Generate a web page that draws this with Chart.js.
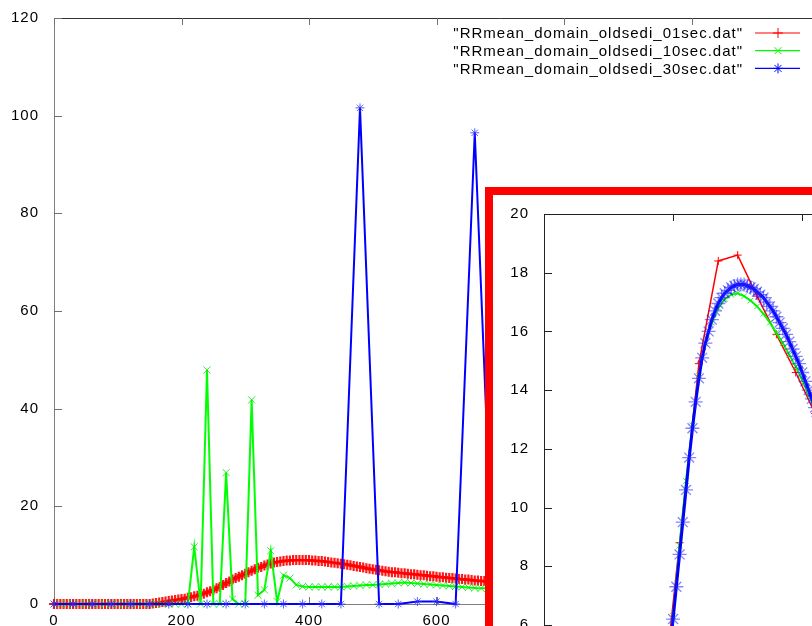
<!DOCTYPE html>
<html lang="en">
<head>
  <meta charset="UTF-8">
  <title>RRmean domain oldsedi</title>
  <script src="https://cdn.jsdelivr.net/npm/chart.js"></script>
  <style>
    body {
      margin: 0;
      width: 812px;
      height: 626px;
      overflow: hidden;
      position: relative;
      background: #fff;
    }

    #main {
      position: absolute;
      left: 0;
      top: 0;
    }

    /* zoomed panel, red frame */
    #zoomBox {
      position: absolute;
      left: 485px;
      top: 187px;
      width: 720px;
      height: 700px;
      border: 8px solid #ff0000;
      background: #fff;
    }

    #inset {
      position: absolute;
      left: 0;
      top: 0;
    }
  </style>
</head>

<body>
  <canvas id="main" width="960" height="660"></canvas>
  <div id="zoomBox"><canvas id="inset" width="710" height="680"></canvas></div>
  <script>
    // file names used in the key
    const fileNames = [
      '"RRmean_domain_oldsedi_01sec.dat"',
      '"RRmean_domain_oldsedi_10sec.dat"',
      '"RRmean_domain_oldsedi_30sec.dat"'
    ];

    // main plot, one value per output step
    const step01 = 5;
    const rr01 = [
      0, 0, 0, 0, 0, 0, 0, 0, 0, 0, 0, 0, 0, 0, 0, 0, 0, 0, 0, 0, 0, 0, 0, 0, 0, 0, 0, 0, 0, 0, 0,
      0.1, 0.2, 0.3, 0.4, 0.5, 0.6, 0.7, 0.8, 0.9, 1.0,
      1.1, 1.3, 1.4, 1.6, 1.7, 1.9, 2.1, 2.4, 2.6, 2.9,
      3.2, 3.5, 3.9, 4.3, 4.6, 5.0, 5.3, 5.6, 5.9, 6.2,
      6.5, 6.8, 7.1, 7.4, 7.6, 7.9, 8.1, 8.3, 8.5, 8.6,
      8.7, 8.8, 8.9, 8.9, 9.0, 9.0, 9.0, 9.0, 9.0, 9.0,
      8.9, 8.9, 8.8, 8.8, 8.7, 8.6, 8.5, 8.45, 8.35, 8.25,
      8.15, 8.05, 7.95, 7.8, 7.7, 7.6, 7.45, 7.3, 7.2, 7.1,
      7.0, 6.9, 6.8, 6.7, 6.6, 6.5, 6.5, 6.4, 6.3, 6.3,
      6.2, 6.1, 6.1, 6.0, 5.9, 5.9, 5.8, 5.7, 5.7, 5.6,
      5.5, 5.5, 5.4, 5.3, 5.3, 5.2, 5.1, 5.1, 5.0, 5.0,
      4.9, 4.8, 4.8, 4.7, 4.7, 4.6, 4.6, 4.5, 4.5, 4.4
    ];

    const step10 = 10;
    const rr10 = [
      0, 0, 0, 0, 0, 0, 0, 0, 0, 0, 0, 0, 0, 0, 0, 0, 0, 0, 0, 0, 0,
      0, 11.7, 0, 47.9, 0, 0, 26.9, 1.0, 0, 0,
      41.8, 1.8, 2.9, 10.9, 0.5, 5.9, 5.3, 3.9, 3.6, 3.5,
      3.5, 3.5, 3.5, 3.5, 3.5, 3.6, 3.7, 3.8, 3.9, 3.9,
      4.0, 4.1, 4.2, 4.3, 4.4, 4.3, 4.2, 4.1, 4.0, 3.9,
      3.8, 3.7, 3.6, 3.5, 3.4, 3.3, 3.2, 3.2, 3.1, 3.1
    ];

    const step30 = 30;
    const rr30 = [
      0, 0, 0, 0, 0, 0, 0, 0, 0, 0, 0, 0, 0, 0, 0, 0,
      101.6, 0, 0, 0.5, 0.5, 0, 96.5, 0, 0
    ];

    // zoomed panel
    const in01Start = 120, in01Step = 30;
    const in01 = [0, 0.4, 2.6, 8.8, 14.9, 18.4, 18.6, 17.2, 15.9, 14.6, 13.2, 11.8, 10.5];

    const in10Start = 180, in10Step = 10;
    const in10 = [
      2.0, 4.1, 6.3, 8.7, 10.9, 12.8, 14.5, 15.6, 16.3, 16.8, 17.1, 17.25, 17.3, 17.2,
      17.05, 16.85, 16.6, 16.3, 15.95, 15.6, 15.2, 14.8, 14.35, 13.85, 13.3, 12.75, 12.2
    ];

    const in30Start = 180, in30Step = 5;
    const in30 = [
      1.8, 2.9, 4.0, 5.1, 6.2, 7.3, 8.4, 9.5, 10.6, 11.7, 12.7, 13.6, 14.4, 15.1, 15.6,
      16.0, 16.4, 16.7, 16.95, 17.15, 17.3, 17.4, 17.5, 17.55, 17.6, 17.6, 17.6, 17.55,
      17.5, 17.45, 17.35, 17.25, 17.15, 17.0, 16.85, 16.7, 16.5, 16.3, 16.1, 15.9, 15.65,
      15.4, 15.15, 14.9, 14.6, 14.3, 14.0, 13.7, 13.4, 13.1, 12.8
    ];

    const red = '#ff0000';
    const green = '#00ff00';
    const blue = '#0000ff';
    const fontFamily = '"Liberation Sans", Arial, sans-serif';

    function toPoints(start, step, values) {
      return values.map((v, i) => ({ x: start + i * step, y: v }));
    }

    // gnuplot style marks for the key
    function mark(ctx, style, x, y, r) {
      ctx.beginPath();
      if (style !== 'crossRot') {
        ctx.moveTo(x - r, y); ctx.lineTo(x + r, y);
        ctx.moveTo(x, y - r); ctx.lineTo(x, y + r);
      }
      if (style !== 'cross') {
        const d = r * 0.7;
        ctx.moveTo(x - d, y - d); ctx.lineTo(x + d, y + d);
        ctx.moveTo(x - d, y + d); ctx.lineTo(x + d, y - d);
      }
      ctx.stroke();
    }

    // gnuplot text is a bit spaced out
    const spacing = {
      id: 'spacing',
      beforeDraw(chart) {
        chart.ctx.letterSpacing = '1px';
      }
    };

    // axes, top border and inward ticks
    const frame = {
      id: 'frame',
      beforeDatasetsDraw(chart, args, opts) {
        const { ctx, chartArea: a, scales: { x, y } } = chart;
        ctx.save();
        ctx.lineWidth = 1;
        ctx.strokeStyle = opts.axisColor;
        ctx.beginPath();
        ctx.moveTo(a.left + 0.5, a.top);
        ctx.lineTo(a.left + 0.5, a.bottom + 1);
        ctx.moveTo(a.left, a.bottom + 0.5);
        ctx.lineTo(a.right, a.bottom + 0.5);
        ctx.stroke();
        ctx.strokeStyle = opts.topColor;
        ctx.beginPath();
        ctx.moveTo(a.left, a.top + 0.5);
        ctx.lineTo(a.right, a.top + 0.5);
        ctx.stroke();
        ctx.strokeStyle = opts.tickColor;
        ctx.beginPath();
        y.ticks.forEach(t => {
          const py = Math.round(y.getPixelForValue(t.value)) + 0.5;
          ctx.moveTo(a.left, py);
          ctx.lineTo(a.left + 8, py);
        });
        x.ticks.forEach(t => {
          const px = Math.round(x.getPixelForValue(t.value)) + 0.5;
          ctx.moveTo(px, a.top);
          ctx.lineTo(px, a.top + 7);
          ctx.moveTo(px, a.bottom);
          ctx.lineTo(px, a.bottom - 7);
        });
        ctx.stroke();
        ctx.restore();
      }
    };

    // key in the top right corner
    const keyBox = {
      id: 'keyBox',
      afterDraw(chart) {
        const ctx = chart.ctx;
        ctx.save();
        ctx.font = '15px ' + fontFamily;
        ctx.letterSpacing = '1px';
        ctx.textAlign = 'right';
        ctx.textBaseline = 'middle';
        chart.data.datasets.forEach((ds, i) => {
          const yy = 33 + i * 17.7;
          ctx.fillStyle = '#000';
          ctx.fillText(ds.label, 743, yy + 1);
          ctx.strokeStyle = ds.borderColor;
          ctx.lineWidth = 1.2;
          ctx.beginPath();
          ctx.moveTo(755, yy);
          ctx.lineTo(800, yy);
          ctx.stroke();
          ctx.lineWidth = 1;
          mark(ctx, ds.pointStyle, 778, yy, 5);
        });
        ctx.restore();
      }
    };

    // fixed axis box, no extra room for the end labels
    function axis(min, max, step, size, padding) {
      return {
        type: 'linear',
        min: min,
        max: max,
        ticks: {
          stepSize: step,
          color: '#000',
          padding: padding,
          maxRotation: 0,
          autoSkip: false,
          font: { family: fontFamily, size: 15 }
        },
        grid: { display: false, drawTicks: false },
        border: { display: false },
        afterFit: s => {
          size(s);
          s.paddingTop = 0;
          s.paddingBottom = 0;
          s.paddingLeft = 0;
          s.paddingRight = 0;
        }
      };
    }

    // 1. main plot
    new Chart(document.getElementById('main'), {
      type: 'line',
      data: {
        datasets: [
          {
            label: fileNames[0],
            data: toPoints(0, step01, rr01),
            borderColor: red,
            borderWidth: 1.5,
            pointStyle: 'cross',
            pointRadius: 5,
            pointBorderWidth: 2.2,
            pointBorderColor: 'rgba(255, 0, 0, 0.9)',
            order: 2,
            clip: false
          },
          {
            label: fileNames[1],
            data: toPoints(0, step10, rr10),
            borderColor: green,
            borderWidth: 2,
            pointStyle: 'crossRot',
            pointRadius: 5,
            pointBorderWidth: 1,
            pointBorderColor: 'rgba(0, 230, 0, 0.8)',
            order: 1,
            clip: false
          },
          {
            label: fileNames[2],
            data: toPoints(0, step30, rr30),
            borderColor: blue,
            borderWidth: 2,
            pointStyle: 'star',
            pointRadius: 4.5,
            pointBorderWidth: 1,
            pointBorderColor: 'rgba(40, 40, 255, 0.75)',
            order: 0,
            clip: false
          }
        ]
      },
      options: {
        responsive: false,
        animation: false,
        devicePixelRatio: 1,
        layout: { padding: { top: 18, right: 13.5, left: 0, bottom: 0 } },
        plugins: {
          legend: { display: false },
          tooltip: { enabled: false },
          frame: { axisColor: '#808080', topColor: '#333', tickColor: '#707070' }
        },
        scales: {
          x: axis(0, 1400, 200, s => { s.height = 56; }, 8),
          y: axis(0, 120, 20, s => { s.width = 54; }, 15)
        }
      },
      plugins: [spacing, frame, keyBox]
    });

    // 2. zoomed panel
    new Chart(document.getElementById('inset'), {
      type: 'line',
      data: {
        datasets: [
          {
            label: fileNames[0],
            data: toPoints(in01Start, in01Step, in01),
            borderColor: red,
            borderWidth: 1.5,
            pointStyle: 'cross',
            pointRadius: 4,
            pointBorderWidth: 1,
            pointBorderColor: red,
            order: 2,
            clip: false
          },
          {
            label: fileNames[1],
            data: toPoints(in10Start, in10Step, in10),
            borderColor: green,
            borderWidth: 2,
            pointStyle: 'crossRot',
            pointRadius: 4,
            pointBorderWidth: 1,
            pointBorderColor: 'rgba(0, 220, 0, 0.8)',
            order: 1,
            clip: false
          },
          {
            label: fileNames[2],
            data: toPoints(in30Start, in30Step, in30),
            borderColor: blue,
            borderWidth: 3,
            pointStyle: 'star',
            pointRadius: 7,
            pointBorderWidth: 1.3,
            pointBorderColor: 'rgba(30, 30, 255, 0.55)',
            order: 0,
            clip: false
          }
        ]
      },
      options: {
        responsive: false,
        animation: false,
        devicePixelRatio: 1,
        layout: { padding: { top: 19, right: 13.5, left: 0, bottom: 0 } },
        plugins: {
          legend: { display: false },
          tooltip: { enabled: false },
          frame: { axisColor: '#222', topColor: '#222', tickColor: '#222' }
        },
        scales: {
          x: axis(0, 1000, 200, s => { s.height = 74; }, 8),
          y: axis(0, 20, 2, s => { s.width = 51; }, 15)
        }
      },
      plugins: [spacing, frame]
    });
  </script>
</body>

</html>
